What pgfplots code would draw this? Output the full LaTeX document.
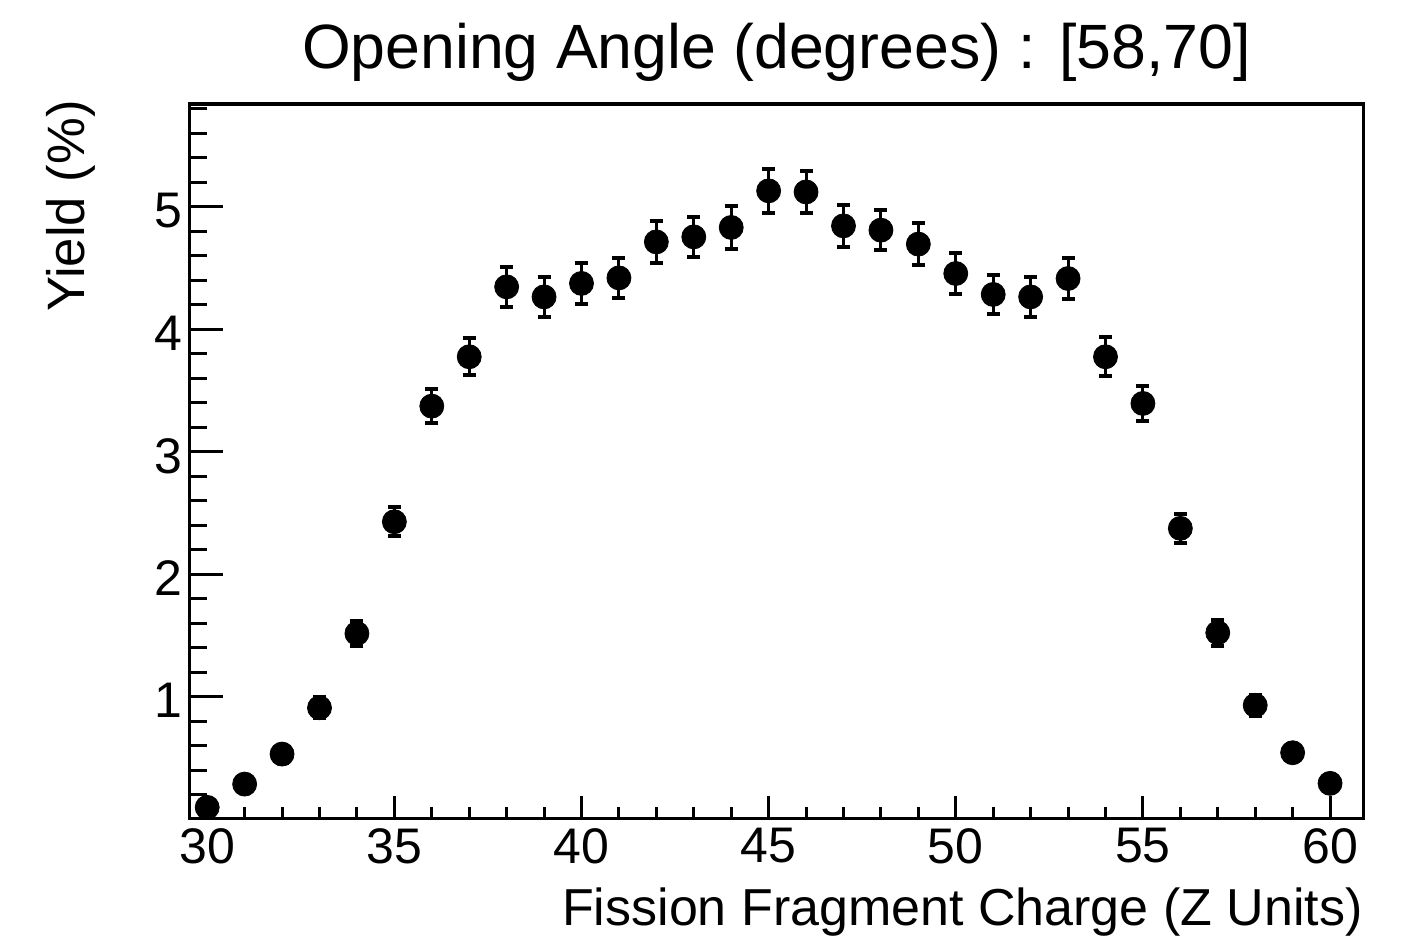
\documentclass[border=0pt]{standalone}
\usepackage{pgfplots}
\pgfplotsset{compat=1.18}
\usepackage{pgfplotstable}
\usepackage{fontspec}
\setmainfont{Liberation Sans}

\pgfplotstableread{
z   y      ey
30  0.097  0.035
31  0.287  0.050
32  0.532  0.070
33  0.910  0.085
34  1.517  0.105
35  2.429  0.120
36  3.373  0.139
37  3.776  0.150
38  4.347  0.165
39  4.265  0.163
40  4.375  0.166
41  4.420  0.165
42  4.714  0.170
43  4.755  0.166
44  4.832  0.175
45  5.131  0.180
46  5.122  0.174
47  4.845  0.174
48  4.810  0.166
49  4.696  0.173
50  4.456  0.167
51  4.285  0.160
52  4.265  0.162
53  4.415  0.165
54  3.776  0.158
55  3.395  0.145
56  2.375  0.116
57  1.523  0.106
58  0.930  0.085
59  0.543  0.070
60  0.293  0.050
}\datatable

\begin{document}
\begin{tikzpicture}
\pgfplotsset{
  common/.style={
    width=586.5pt, height=357pt, scale only axis,
    xmin=29.54, xmax=60.88, ymin=0.01, ymax=5.84,
    axis line style={line width=1.5pt},
    every tick/.style={black, line width=1.5pt},
    tick align=inside,
    xtick pos=bottom, ytick pos=left,
    /pgf/number format/assume math mode=true,
    clip=false,
  }
}
\begin{axis}[common,
  xtick={30,35,...,60},
  minor xtick={31,32,33,34,36,37,38,39,41,42,43,44,46,47,48,49,51,52,53,54,56,57,58,59},
  major tick length=11pt, minor tick length=5.5pt,
  ytick=\empty,
  xticklabel style={font=\fontsize{25}{30}\selectfont, anchor=north, inner sep=0pt, yshift=-5pt},
]
\addplot[black, only marks, mark=*, mark size=6pt,
  error bars/.cd, y dir=both, y explicit,
  error bar style={line width=1.5pt},
  error mark=-,
  error mark options={rotate=90, line width=2pt, mark size=3.25pt}]
  table[x=z, y=y, y error=ey] {\datatable};
\node[anchor=base, inner sep=0pt, font=\fontsize{31.3}{36}\selectfont]
  at ([yshift=18pt]rel axis cs:0.5,1) {Opening Angle (degrees) : [58,70]};
\node[anchor=base east, inner sep=0pt, font=\fontsize{26}{30}\selectfont]
  at ([yshift=-53.5pt]rel axis cs:1,0) {Fission Fragment Charge (Z Units)};
\node[anchor=base east, rotate=90, inner sep=0pt, font=\fontsize{26.3}{30}\selectfont]
  at ([xshift=-52.5pt,yshift=2pt]rel axis cs:0,1) {Yield (\%)};
\coordinate (bl) at (rel axis cs:0,0);
\coordinate (tr) at (rel axis cs:1,1);
\end{axis}
\begin{axis}[common,
  xtick=\empty,
  ytick={1,2,3,4,5},
  minor ytick={0.2,0.4,0.6,0.8,1.2,1.4,1.6,1.8,2.2,2.4,2.6,2.8,3.2,3.4,3.6,3.8,4.2,4.4,4.6,4.8,5.2,5.4,5.6,5.8},
  major tick length=16.5pt, minor tick length=8.5pt,
  yticklabel style={font=\fontsize{25}{30}\selectfont, anchor=east, inner sep=0pt, xshift=-3.5pt, yshift=-2pt},
]
\end{axis}
\pgfresetboundingbox
\path[use as bounding box] ([xshift=-95pt,yshift=-63.5pt]bl) rectangle ([xshift=20.5pt,yshift=52pt]tr);
\end{tikzpicture}
\end{document}
